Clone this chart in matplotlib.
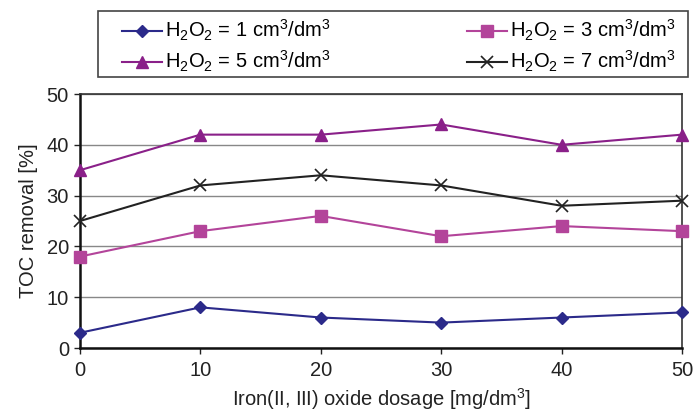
import matplotlib
matplotlib.use("Agg")
import matplotlib.pyplot as plt
from matplotlib.patches import Rectangle

plt.rcParams['font.family'] = ['Liberation Sans', 'DejaVu Sans']

dosage = [0, 10, 20, 30, 40, 50]
h1 = [3, 8, 6, 5, 6, 7]
h3 = [18, 23, 26, 22, 24, 23]
h5 = [35, 42, 42, 44, 40, 42]
h7 = [25, 32, 34, 32, 28, 29]
labels = [r'H$_2$O$_2$ = 1 cm$^3$/dm$^3$', r'H$_2$O$_2$ = 3 cm$^3$/dm$^3$',
          r'H$_2$O$_2$ = 5 cm$^3$/dm$^3$', r'H$_2$O$_2$ = 7 cm$^3$/dm$^3$']
yticks = [0, 10, 20, 30, 40, 50]
xticks = [0, 10, 20, 30, 40, 50]

plt.rcParams['mathtext.fontset'] = 'custom'
plt.rcParams['mathtext.rm'] = 'Liberation Sans'
plt.rcParams['mathtext.it'] = 'Liberation Sans'

W, H = 694, 413
fig = plt.figure(figsize=(6.94, 4.13), dpi=100)
ax = fig.add_axes([80/W, 1-348/H, (682-80)/W, (348-94)/H])

l1, = ax.plot(dosage, h1, color='#2B2A8A', marker='D', markersize=6.5, lw=1.5, label=labels[0], clip_on=False, zorder=3)
l2, = ax.plot(dosage, h3, color='#B3449A', marker='s', markersize=8, lw=1.5, label=labels[1], clip_on=False, zorder=3)
l3, = ax.plot(dosage, h5, color='#8A2089', marker='^', markersize=8.5, lw=1.5, label=labels[2], clip_on=False, zorder=3)
l4, = ax.plot(dosage, h7, color='#222222', marker='x', markersize=8, mew=1.2, lw=1.5, label=labels[3], clip_on=False, zorder=3)

ax.set_xlim(0, 50)
ax.set_ylim(0, 50)
ax.set_xticks(xticks)
ax.set_yticks(yticks)
ax.yaxis.grid(True, color='#888888', lw=1.0)
ax.set_axisbelow(True)
for s in ['left', 'bottom']:
    ax.spines[s].set_linewidth(1.8)
    ax.spines[s].set_color('#111111')
for s in ['top', 'right']:
    ax.spines[s].set_linewidth(1.2)
    ax.spines[s].set_color('#333333')
ax.tick_params(axis='both', labelsize=14.5, colors='#222222', length=4, width=1)
ax.tick_params(axis='x', pad=5)
ax.tick_params(axis='y', pad=4)
ax.set_xlabel('Iron(II, III) oxide dosage [mg/dm$^3$]', fontsize=14.5, color='#222222', labelpad=5)
ax.set_ylabel('TOC removal [%]', fontsize=14.5, color='#222222', labelpad=6)

# legend frame
fig.patches.append(Rectangle((98/W, 1-77/H), (688-98)/W, 66/H, transform=fig.transFigure,
                             fill=False, edgecolor='#444444', lw=1.2))
leg = fig.legend(handles=[l1, l3, l2, l4], loc='upper left',
                 bbox_to_anchor=(122/W, 1-18/H),
                 ncol=2, fontsize=14.5, frameon=False,
                 handlelength=2.0, handletextpad=0.15, borderaxespad=0,
                 borderpad=0, columnspacing=6.75, labelspacing=0.3)

fig.savefig('out.png', dpi=100)
